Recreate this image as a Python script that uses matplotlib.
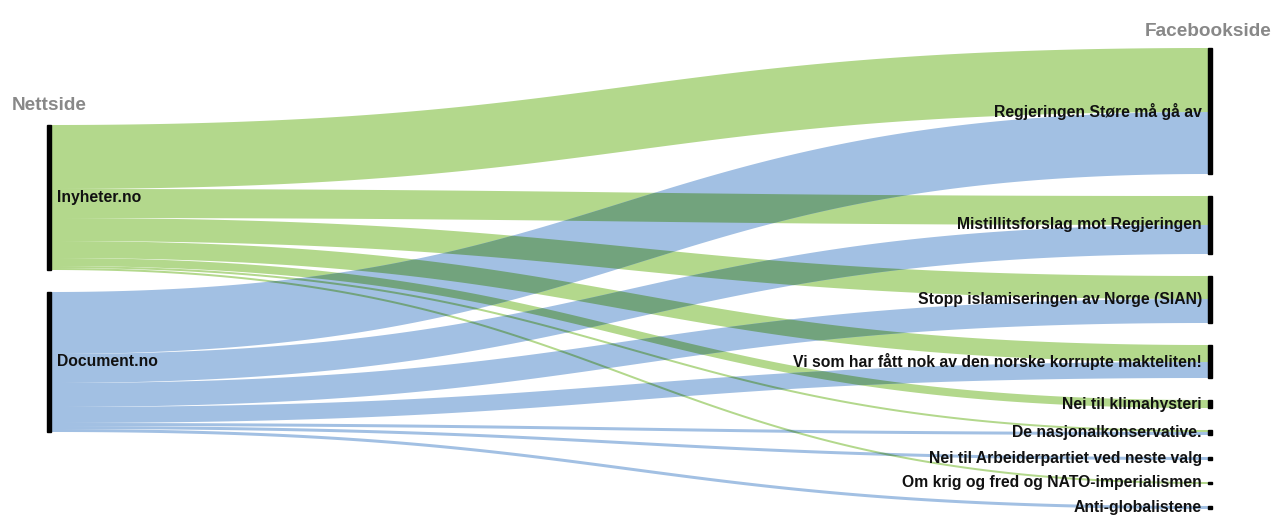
import numpy as np
import matplotlib
matplotlib.use("Agg")
import matplotlib.pyplot as plt
from matplotlib.path import Path
from matplotlib.patches import PathPatch, Rectangle
from matplotlib import font_manager

# ---------------- data ----------------
sources = ["Inyheter.no", "Document.no"]
targets = [
    "Regjeringen Støre må gå av",
    "Mistillitsforslag mot Regjeringen",
    "Stopp islamiseringen av Norge (SIAN)",
    "Vi som har fått nok av den norske korrupte makteliten!",
    "Nei til klimahysteri",
    "De nasjonalkonservative.",
    "Nei til Arbeiderpartiet ved neste valg",
    "Om krig og fred og NATO-imperialismen",
    "Anti-globalistene",
]
inyheter_values = [64, 29, 23, 17, 8, 2, 0, 2, 0]
document_values = [62, 29, 24, 16, 0, 3, 3, 0, 3]
left_title = "Nettside"
right_title = "Facebookside"

# ---------------- style ----------------
W, H = 1274, 516
GREEN = np.array([179, 216, 140]) / 255
BLUE = np.array([162, 192, 227]) / 255
DARK = GREEN * BLUE  # multiply blend
src_colors = [GREEN, BLUE]

names = {f.name for f in font_manager.fontManager.ttflist}
FONT = ["Liberation Sans", "Arial", "DejaVu Sans"]
FONT = [f for f in FONT if f in names] or ["DejaVu Sans"]
LABEL_SIZE = 11.3
TITLE_SIZE = 13.7

fig = plt.figure(figsize=(W / 100, H / 100), dpi=100)
ax = fig.add_axes([0, 0, 1, 1])
ax.set_xlim(0, W)
ax.set_ylim(H, 0)
ax.axis("off")

# ---------------- layout ----------------
values = np.array([inyheter_values, document_values], dtype=float)
pad = 22
ky = 1.0
right_top = 48
lx0, lx1 = 47, 51
rx0, rx1 = 1208, 1212

tgt_sizes = values.sum(axis=0) * ky
src_sizes = values.sum(axis=1) * ky
right_total = tgt_sizes.sum() + pad * (len(targets) - 1)
tgt_y = right_top + np.concatenate([[0], np.cumsum(tgt_sizes[:-1] + pad)])
center = right_top + right_total / 2
left_total = src_sizes.sum() + pad * (len(sources) - 1)
src_y = center - left_total / 2 + np.concatenate([[0], np.cumsum(src_sizes[:-1] + pad)])


def band(xa, ya, xb, yb, w, n=240):
    t = np.linspace(0, 1, n)[:, None]
    xm = (xa + xb) / 2
    P0, P1, P2, P3 = map(np.array, ([xa, ya], [xm, ya], [xm, yb], [xb, yb]))
    P = (1 - t) ** 3 * P0 + 3 * (1 - t) ** 2 * t * P1 + 3 * (1 - t) * t ** 2 * P2 + t ** 3 * P3
    D = 3 * (1 - t) ** 2 * (P1 - P0) + 6 * (1 - t) * t * (P2 - P1) + 3 * t ** 2 * (P3 - P2)
    D = D / np.linalg.norm(D, axis=1, keepdims=True)
    N = np.column_stack([-D[:, 1], D[:, 0]])
    up = P + N * w / 2
    lo = P - N * w / 2
    verts = np.vstack([up, lo[::-1], up[:1]])
    codes = [Path.MOVETO] + [Path.LINETO] * (len(verts) - 2) + [Path.CLOSEPOLY]
    return Path(verts, codes)


# source offsets ordered by target; target offsets ordered by source
link_src_y = np.zeros_like(values)
for i in range(len(sources)):
    y = src_y[i]
    for j in range(len(targets)):
        link_src_y[i, j] = y
        y += values[i, j] * ky
link_tgt_y = np.zeros_like(values)
for j in range(len(targets)):
    y = tgt_y[j]
    for i in range(len(sources)):
        link_tgt_y[i, j] = y
        y += values[i, j] * ky

patches = {0: [], 1: []}
for i in range(len(sources)):
    for j in range(len(targets)):
        w = values[i, j] * ky
        if w <= 0:
            continue
        p = band(lx1, link_src_y[i, j] + w / 2, rx0, link_tgt_y[i, j] + w / 2, w)
        pp = PathPatch(p, facecolor=src_colors[i], edgecolor="none", zorder=1 + i)
        ax.add_patch(pp)
        patches[i].append((p, pp))

# multiply-blend overlaps
for bp, _ in patches[1]:
    for _, gpatch in patches[0]:
        ov = PathPatch(bp, facecolor=DARK, edgecolor="none", zorder=3)
        ax.add_patch(ov)
        ov.set_clip_path(gpatch)

# nodes
for i, name in enumerate(sources):
    ax.add_patch(Rectangle((lx0, src_y[i]), lx1 - lx0, src_sizes[i], color="black", zorder=5))
    ax.text(lx1 + 6, src_y[i] + src_sizes[i] / 2, name, ha="left", va="center",
            fontsize=LABEL_SIZE, fontweight="bold", family=FONT, color="#111111", zorder=6)
for j, name in enumerate(targets):
    ax.add_patch(Rectangle((rx0, tgt_y[j]), rx1 - rx0, tgt_sizes[j], color="black", zorder=5))
    ax.text(rx0 - 6, tgt_y[j] + tgt_sizes[j] / 2, name, ha="right", va="center",
            fontsize=LABEL_SIZE, fontweight="bold", family=FONT, color="#111111", zorder=6)

ax.text(12, 106, left_title, ha="left", va="center", fontsize=TITLE_SIZE, fontweight="bold",
        family=FONT, color="#888888")
ax.text(1272, 31, right_title, ha="right", va="center", fontsize=TITLE_SIZE, fontweight="bold",
        family=FONT, color="#888888")

fig.savefig("out.png", dpi=100)
